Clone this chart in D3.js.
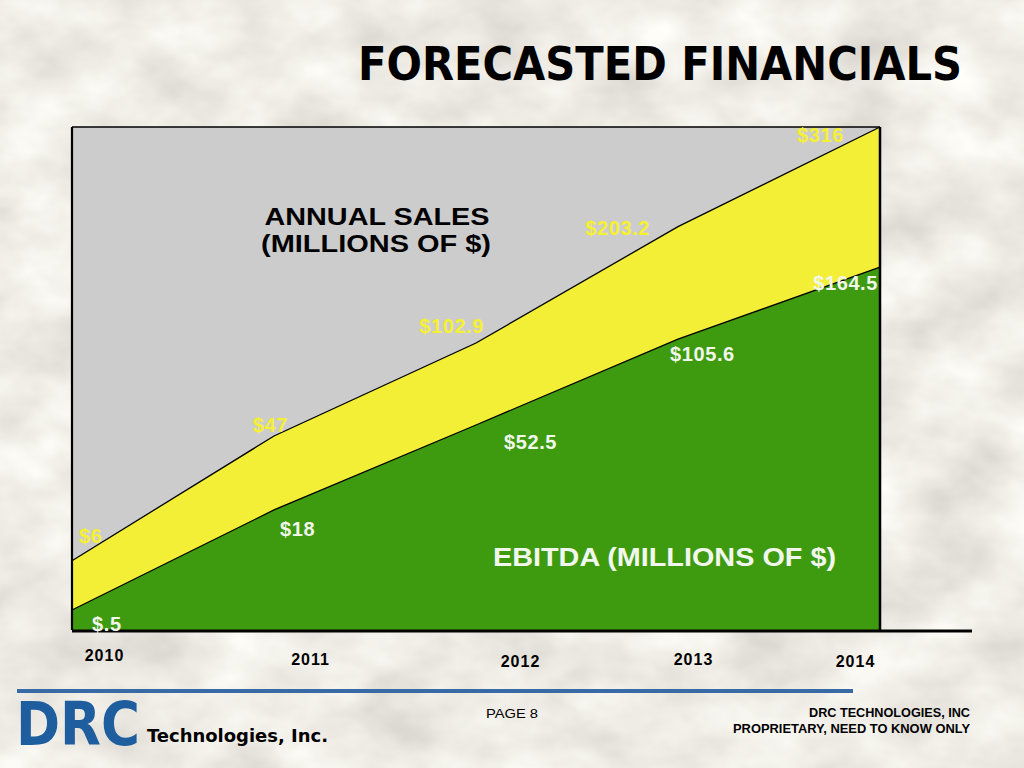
<!DOCTYPE html>
<html lang="en">
  <head>
    <meta charset="UTF-8" />
    <title>Forecasted Financials</title>
    <script src="https://d3js.org/d3.v7.min.js"></script>
    <style>
      body {
        margin: 0;
        background: #dcd9d1;
      }
      svg {
        display: block;
      }
      .val {
        font-family: "Liberation Sans", Arial, sans-serif;
        font-weight: bold;
        font-size: 20px;
        letter-spacing: 0.6px;
      }
      .year {
        font-family: "Liberation Sans", Arial, sans-serif;
        font-weight: bold;
        font-size: 16px;
        letter-spacing: 1px;
        fill: #000;
      }
      .series-title {
        font-family: "Liberation Sans", Arial, sans-serif;
        font-weight: bold;
        font-size: 24px;
      }
    </style>
  </head>
  <body>
    <svg width="1024" height="768"></svg>
    <script>
      // Chart data (millions of $)
      const years = ["2010", "2011", "2012", "2013", "2014"];
      const sales = [6, 47, 102.9, 203.2, 316];
      const ebitda = [0.5, 18, 52.5, 105.6, 164.5];
      const salesLabels = ["$6", "$47", "$102.9", "$203.2", "$316"];
      const ebitdaLabels = ["$.5", "$18", "$52.5", "$105.6", "$164.5"];

      const svg = d3.select("svg");
      const plot = { left: 72, right: 880, top: 127, bottom: 630 };

      // Washed-out stone-like background
      const defs = svg.append("defs");
      const stone = defs
        .append("filter")
        .attr("id", "stone")
        .attr("x", 0)
        .attr("y", 0)
        .attr("width", "100%")
        .attr("height", "100%");
      stone
        .append("feTurbulence")
        .attr("type", "fractalNoise")
        .attr("baseFrequency", "0.011 0.016")
        .attr("numOctaves", 4)
        .attr("seed", 7)
        .attr("result", "noise");
      stone
        .append("feColorMatrix")
        .attr("in", "noise")
        .attr("type", "matrix")
        .attr(
          "values",
          "0.45 0 0 0 0.63  0.45 0 0 0 0.61  0.45 0 0 0 0.56  0 0 0 0 1"
        );
      svg
        .append("rect")
        .attr("width", 1024)
        .attr("height", 768)
        .attr("fill", "#dcd9d1")
        .attr("filter", "url(#stone)");

      // Title
      svg
        .append("text")
        .attr("x", 962)
        .attr("y", 80)
        .attr("text-anchor", "end")
        .attr("textLength", 604)
        .attr("lengthAdjust", "spacingAndGlyphs")
        .style("font-family", "'DejaVu Sans Condensed', 'DejaVu Sans', Tahoma, sans-serif")
        .style("font-stretch", "condensed")
        .style("font-weight", "bold")
        .style("font-size", "46px")
        .text("FORECASTED FINANCIALS");

      // Scales
      const x = d3
        .scalePoint()
        .domain(years)
        .range([plot.left, plot.right]);

      const y = d3
        .scaleSqrt()
        .domain([0, d3.max(sales)])
        .range([plot.bottom, plot.top]);

      const salesData = years.map((yr, i) => ({ year: yr, v: sales[i] }));
      const ebitdaData = years.map((yr, i) => ({ year: yr, v: ebitda[i] }));

      // Plot background
      svg
        .append("rect")
        .attr("x", plot.left)
        .attr("y", plot.top)
        .attr("width", plot.right - plot.left)
        .attr("height", plot.bottom - plot.top)
        .attr("fill", "#cccccc");

      const area = d3
        .area()
        .x((d) => x(d.year))
        .y0(plot.bottom)
        .y1((d) => y(d.v));

      const line = d3
        .line()
        .x((d) => x(d.year))
        .y((d) => y(d.v));

      svg.append("path").datum(salesData).attr("d", area).attr("fill", "#f3ef36");
      svg.append("path").datum(ebitdaData).attr("d", area).attr("fill", "#3e9b0f");

      [salesData, ebitdaData].forEach((series) => {
        svg
          .append("path")
          .datum(series)
          .attr("d", line)
          .attr("fill", "none")
          .attr("stroke", "#000")
          .attr("stroke-width", 1.3);
      });

      // Frame
      svg
        .append("line")
        .attr("x1", plot.left)
        .attr("x2", plot.right)
        .attr("y1", plot.top)
        .attr("y2", plot.top)
        .attr("stroke", "#000")
        .attr("stroke-width", 1.4);
      svg
        .append("line")
        .attr("x1", plot.left)
        .attr("x2", plot.left)
        .attr("y1", plot.top)
        .attr("y2", plot.bottom)
        .attr("stroke", "#000")
        .attr("stroke-width", 2.2);
      svg
        .append("line")
        .attr("x1", plot.right)
        .attr("x2", plot.right)
        .attr("y1", plot.top)
        .attr("y2", plot.bottom)
        .attr("stroke", "#000")
        .attr("stroke-width", 2.5);

      // X axis with year labels
      const yearDx = [32, 36, 44, 15, -25];
      const yearY = [31, 35, 37, 35, 37];
      const xAxis = svg
        .append("g")
        .attr("transform", `translate(0,${plot.bottom})`)
        .call(d3.axisBottom(x).tickSize(0));
      xAxis.select(".domain").remove();
      xAxis
        .selectAll("text")
        .attr("class", "year")
        .attr("dy", 0)
        .attr("y", (d, i) => yearY[i])
        .attr("dx", (d, i) => yearDx[i]);
      svg
        .append("line")
        .attr("x1", plot.left)
        .attr("x2", 972)
        .attr("y1", plot.bottom + 1)
        .attr("y2", plot.bottom + 1)
        .attr("stroke", "#000")
        .attr("stroke-width", 3);

      // Sales value labels (offsets from each point)
      const last = years.length - 1;
      const salesOff = [[7, -18], [14, -4], [8, -10], [-28, 8], [-36, 15]];
      svg
        .selectAll(".sales-label")
        .data(salesData)
        .enter()
        .append("text")
        .attr("class", "val sales-label")
        .attr("fill", "#f5f032")
        .attr("text-anchor", (d, i) => (i === 0 ? "start" : "end"))
        .attr("x", (d, i) => x(d.year) + salesOff[i][0])
        .attr("y", (d, i) => y(d.v) + salesOff[i][1])
        .text((d, i) => salesLabels[i]);

      // EBITDA value labels
      const ebitdaOff = [[20, 22], [6, 26], [28, 24], [-8, 22], [-2, 23]];
      svg
        .selectAll(".ebitda-label")
        .data(ebitdaData)
        .enter()
        .append("text")
        .attr("class", "val ebitda-label")
        .attr("fill", "#f2f7ee")
        .attr("text-anchor", (d, i) => (i === last ? "end" : "start"))
        .attr("x", (d, i) => x(d.year) + ebitdaOff[i][0])
        .attr("y", (d, i) => Math.min(y(d.v) + ebitdaOff[i][1], plot.bottom + 1))
        .text((d, i) => ebitdaLabels[i]);

      // Series titles
      svg
        .append("text")
        .attr("class", "series-title")
        .attr("x", 377)
        .attr("y", 225)
        .attr("text-anchor", "middle")
        .attr("textLength", 225)
        .attr("lengthAdjust", "spacingAndGlyphs")
        .text("ANNUAL SALES");
      svg
        .append("text")
        .attr("class", "series-title")
        .attr("x", 376)
        .attr("y", 252)
        .attr("text-anchor", "middle")
        .attr("textLength", 230)
        .attr("lengthAdjust", "spacingAndGlyphs")
        .text("(MILLIONS OF $)");

      svg
        .append("text")
        .attr("class", "series-title")
        .attr("x", 493)
        .attr("y", 566)
        .attr("fill", "#f2f7ee")
        .attr("textLength", 343)
        .attr("lengthAdjust", "spacingAndGlyphs")
        .style("font-size", "25px")
        .text("EBITDA (MILLIONS OF $)");

      // Footer
      svg
        .append("rect")
        .attr("x", 17)
        .attr("y", 689)
        .attr("width", 836)
        .attr("height", 4)
        .attr("fill", "#3a6aa6");

      svg
        .append("text")
        .attr("x", 16)
        .attr("y", 745)
        .attr("textLength", 124)
        .attr("lengthAdjust", "spacingAndGlyphs")
        .attr("fill", "#1e5d9e")
        .style("font-family", "'DejaVu Sans', sans-serif")
        .style("font-weight", "bold")
        .style("font-size", "61px")
        .text("DRC");

      svg
        .append("text")
        .attr("x", 147)
        .attr("y", 742)
        .attr("textLength", 181)
        .attr("lengthAdjust", "spacingAndGlyphs")
        .style("font-family", "'DejaVu Sans', Tahoma, sans-serif")
        .style("font-weight", "bold")
        .style("font-size", "18px")
        .text("Technologies, Inc.");

      svg
        .append("text")
        .attr("x", 486)
        .attr("y", 718)
        .attr("textLength", 52)
        .attr("lengthAdjust", "spacingAndGlyphs")
        .style("font-family", "'Liberation Sans Narrow', 'Liberation Sans', Arial, sans-serif")
        .style("font-size", "13px")
        .text("PAGE 8");

      const footRight = svg
        .append("text")
        .attr("text-anchor", "end")
        .style("font-family", "'Liberation Sans Narrow', 'Liberation Sans', Arial, sans-serif")
        .style("font-weight", "bold")
        .style("font-size", "12.5px");
      footRight
        .append("tspan")
        .attr("x", 970)
        .attr("y", 717)
        .attr("textLength", 161)
        .attr("lengthAdjust", "spacingAndGlyphs")
        .text("DRC TECHNOLOGIES, INC");
      footRight
        .append("tspan")
        .attr("x", 970)
        .attr("y", 733)
        .attr("textLength", 237)
        .attr("lengthAdjust", "spacingAndGlyphs")
        .text("PROPRIETARY, NEED TO KNOW ONLY");
    </script>
  </body>
</html>
